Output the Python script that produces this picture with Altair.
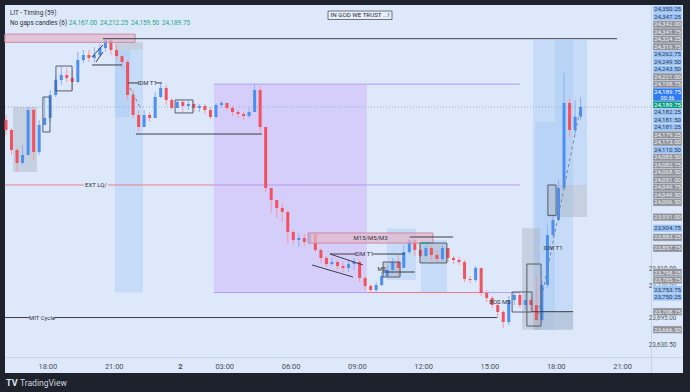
import altair as alt
import pandas as pd

# ---------------- data ----------------
# 15-minute candles, "no gaps": each open equals the previous close
first_open = 24159.25
closes = [24135.75, 24088.75, 24058.25, 24077.0, 24182.75, 24084.0, 24147.5, 24164.0, 24218.0, 24253.25,
          24265.0, 24258.0, 24248.5, 24300.25, 24312.0, 24305.0, 24312.0, 24328.5, 24347.25, 24323.75,
          24309.5, 24295.5, 24218.0, 24171.0, 24142.75, 24171.0, 24164.0, 24213.25, 24234.5, 24206.25,
          24187.5, 24201.5, 24192.0, 24196.75, 24187.5, 24192.0, 24182.75, 24166.25, 24194.5, 24199.25,
          24187.5, 24178.0, 24173.25, 24168.5, 24178.0, 24229.75, 24142.75, 23999.5, 23971.25, 23952.5,
          23943.0, 23896.0, 23877.25, 23882.0, 23872.5, 23891.25, 23853.75, 23835.0, 23820.75, 23825.5,
          23816.0, 23811.5, 23820.75, 23825.5, 23788.0, 23769.0, 23759.75, 23771.5, 23792.5, 23806.75,
          23825.5, 23811.5, 23849.0, 23877.25, 23853.75, 23839.5, 23858.5, 23842.0, 23832.5, 23858.5,
          23835.0, 23830.25, 23825.5, 23785.5, 23783.25, 23811.5, 23752.75, 23741.0, 23724.5, 23708.0,
          23684.5, 23736.25, 23748.0, 23724.5, 23736.25, 23724.5, 23689.25, 23771.5, 23889.0, 23924.25,
          23999.5, 24199.25, 24135.75, 24167.0, 24189.75]
highs = [24171.0, 24140.5, 24093.5, 24100.5, 24189.75, 24187.5, 24159.25, 24213.25, 24229.75, 24260.25,
         24283.75, 24281.5, 24276.75, 24319.0, 24323.75, 24323.75, 24330.75, 24337.75, 24352.0, 24347.25,
         24335.5, 24312.0, 24300.25, 24229.75, 24182.75, 24182.75, 24178.0, 24225.0, 24246.25, 24241.5,
         24211.0, 24206.25, 24206.25, 24203.75, 24201.5, 24196.75, 24196.75, 24189.75, 24199.25, 24203.75,
         24199.25, 24192.0, 24182.75, 24178.0, 24187.5, 24243.75, 24239.0, 24142.75, 23999.5, 23971.25,
         23964.25, 23947.75, 23900.75, 23893.75, 23891.25, 23893.75, 23891.25, 23858.5, 23839.5, 23835.0,
         23830.25, 23825.5, 23830.25, 23835.0, 23830.25, 23792.5, 23773.75, 23778.5, 23802.0, 23818.5,
         23835.0, 23842.0, 23865.5, 23886.5, 23877.25, 23865.5, 23865.5, 23863.0, 23853.75, 23865.5,
         23858.5, 23839.5, 23837.25, 23830.25, 23792.5, 23816.0, 23811.5, 23759.75, 23745.5, 23729.25,
         23712.75, 23745.5, 23755.0, 23752.75, 23750.25, 23741.0, 23790.25, 23783.25, 23912.5, 23936.0,
         24018.25, 24269.75, 24211.0, 24206.25, 24212.25]
lows = [24124.0, 24077.0, 24037.0, 24053.5, 24077.0, 24065.25, 24077.0, 24147.5, 24154.5, 24213.25,
        24241.5, 24248.5, 24229.75, 24246.25, 24293.25, 24295.5, 24295.5, 24307.25, 24319.0, 24312.0,
        24300.25, 24281.5, 24206.25, 24164.0, 24133.25, 24147.5, 24154.5, 24164.0, 24211.0, 24194.5,
        24182.75, 24187.5, 24178.0, 24182.75, 24178.0, 24178.0, 24173.25, 24161.5, 24164.0, 24187.5,
        24180.25, 24168.5, 24164.0, 24159.25, 24164.0, 24178.0, 24128.75, 23990.0, 23940.75, 23929.0,
        23919.5, 23870.25, 23865.5, 23860.75, 23863.0, 23867.75, 23849.0, 23823.25, 23813.75, 23816.0,
        23806.75, 23802.0, 23802.0, 23806.75, 23778.5, 23759.75, 23752.75, 23752.75, 23769.0, 23788.0,
        23797.25, 23792.5, 23811.5, 23844.25, 23839.5, 23835.0, 23837.25, 23830.25, 23825.5, 23827.75,
        23825.5, 23820.75, 23818.5, 23778.5, 23776.25, 23778.5, 23745.5, 23731.5, 23717.5, 23694.0,
        23670.5, 23677.5, 23724.5, 23717.5, 23712.75, 23708.0, 23679.75, 23684.5, 23764.5, 23882.0,
        23919.5, 23994.75, 24119.25, 24124.0, 24159.5]
BAR_HOURS = 0.25

# time axis (trading hours from the start of the window)
tick_hours = [1.875, 4.875, 7.875, 9.875, 12.875, 15.875, 18.875, 21.875, 24.875, 27.875]
tick_labels = ["18:00", "21:00", "2", "03:00", "06:00", "09:00", "12:00", "15:00", "18:00", "21:00"]

# price-scale labels (value, kind)
price_labels = [
    (24350.25, "lb"), (24347.25, "lb"), (24342.00, "gr"), (24341.75, "gr"), (24324.25, "gr"),
    (24319.75, "gr"), (24262.75, "lb"), (24249.50, "lb"), (24243.50, "lb"), (24221.00, "gr"),
    (24198.75, "gr"), (24189.75, "blue"), (24189.75, "green"), (24182.25, "lb"), (24181.50, "lb"),
    (24181.25, "lb"), (24179.25, "gr"), (24173.00, "gr"), (24110.50, "lb"), (24085.50, "gr"),
    (24082.75, "gr"), (24068.50, "gr"), (24051.00, "gr"), (24049.75, "gr"), (24049.50, "gr"),
    (24006.50, "gr"), (23931.00, "gr"), (23904.75, "lb"), (23883.25, "gr"), (23857.75, "gr"),
    (23798.25, "gr"), (23785.75, "gr"), (23753.75, "lb"), (23750.25, "lb"), (23708.75, "gr"),
    (23666.50, "gr")]
plain_labels = [23810.00, 23770.00, 23695.00, 23630.50]
countdown = "00:36"

# drawings: zones (t1, t2, price top, price bottom)
pink_zones = [(-0.05, 5.84, 24361.0, 24341.75), (13.67, 19.32, 23893.75, 23870.0)]
purple_zones = [(9.41, 16.33, 24243.5, 23753.75)]
blue_zones = [(4.93, 6.20, 24324.25, 23753.75), (4.93, 5.61, 24324.25, 24166.25),
              (17.24, 18.55, 23905.0, 23783.0), (18.78, 19.95, 23877.0, 23755.0),
              (23.85, 25.66, 24347.25, 23666.5), (24.84, 26.29, 24347.25, 24006.5),
              (23.94, 24.84, 24154.5, 23666.5)]
gray_zones = [(4.93, 6.20, 24342.0, 24324.25), (0.32, 1.40, 24189.75, 24037.0),
              (23.85, 25.66, 23708.75, 23666.5), (23.35, 24.16, 23904.75, 23666.5),
              (24.52, 26.29, 24006.5, 23931.0), (17.06, 17.83, 23825.5, 23790.25),
              (18.73, 19.95, 23870.0, 23823.25)]
outline_boxes = [(1.67, 1.99, 24213.25, 24131.0), (2.26, 2.99, 24286.0, 24227.5),
                 (7.65, 8.46, 24206.25, 24175.75), (23.57, 24.21, 23820.75, 23675.0),
                 (24.52, 24.89, 24006.5, 23935.0), (17.06, 17.83, 23825.5, 23790.25),
                 (18.73, 19.95, 23870.0, 23823.25), (22.9, 23.8, 23755.0, 23708.0)]
# lines (t1, p1, t2, p2)
black_lines = [(4.39, 24350.25, 27.65, 24350.25), (3.89, 24288.5, 5.25, 24288.5),
               (5.88, 24126.25, 11.58, 24126.25), (-0.05, 23695.0, 1.05, 23695.0),
               (2.2, 23695.0, 22.22, 23695.0), (23.8, 23708.75, 25.66, 23708.75),
               (18.28, 23884.25, 20.23, 23884.25), (17.06, 23802.0, 18.5, 23802.0),
               (5.52, 24246.25, 6.0, 24246.25), (6.78, 24246.25, 7.06, 24246.25),
               (14.66, 23844.25, 15.8, 23844.25), (16.6, 23844.25, 18.05, 23844.25),
               (14.66, 23844.25, 16.15, 23818.5), (13.85, 23818.5, 15.70, 23790.25),
               (3.89, 24307.25, 4.39, 24335.5), (4.07, 24295.5, 4.39, 24319.0)]
red_lines = [(-0.05, 24006.5, 3.52, 24006.5), (4.62, 24006.5, 9.41, 24006.5),
             (16.38, 23753.75, 21.6, 23753.75)]
purple_lines = [(9.41, 24243.5, 23.26, 24243.5), (9.41, 24006.5, 23.26, 24006.5),
                (9.41, 23753.75, 23.26, 23753.75)]
dashed_lines = [(24.03, 23689.25, 25.97, 24182.75), (5.61, 24234.5, 6.06, 24189.75)]
teal_lines = [(18.78, 23870.0, 19.19, 23870.0)]
# text on the chart (t, price, text)
chart_texts = [(6.39, 24246.25, "IDM T1"), (16.2, 23844.25, "IDM T1"), (24.75, 23858.5, "IDM T1"),
               (4.07, 24006.5, "EXT LQ/"), (1.63, 23695.0, "MIT Cycle"), (16.5, 23882.0, "M15/M5/M3"),
               (22.35, 23731.5, "BOS M5"), (17.0, 23809.0, "M5")]
header_values = ["24,167.00", "24,212.25", "24,159.50", "24,189.75"]

# ---------------- layout ----------------
W, H = 646, 352
PMIN, PMAX = 23602.25, 24429.45
TMIN, TMAX = -0.045, 29.186
FONT = "Roboto"
BG_PANEL = "#dde9fa"

xs = alt.Scale(domain=[TMIN, TMAX], nice=False, zero=False, padding=0)
ys = alt.Scale(domain=[PMIN, PMAX], nice=False, zero=False, padding=0)
xaxis = alt.Axis(values=tick_hours, title=None, grid=False, domain=False, ticks=False,
                 labelPadding=5, labelFontSize=7.5, labelColor="#4a4f5a", labelFont=FONT,
                 labelExpr="[" + ",".join("'%s'" % s for s in tick_labels) + "][indexof(["
                           + ",".join(str(v) for v in tick_hours) + "], datum.value)]",
                 labelFontWeight={"condition": {"test": "datum.value == 7.875", "value": "bold"},
                                  "value": "normal"},
                 zindex=1)


def X(f):
    return alt.X(f, type="quantitative", scale=xs, axis=xaxis)


def Y(f):
    return alt.Y(f, type="quantitative", scale=ys, axis=None)


one = pd.DataFrame({"a": [0]})

# candle table
opens = [first_open] + closes[:-1]
cdf = pd.DataFrame({"t": [i * BAR_HOURS for i in range(len(closes))], "open": opens,
                    "close": closes, "high": highs, "low": lows})
cdf["high"] = cdf[["high", "open", "close"]].max(axis=1)
cdf["low"] = cdf[["low", "open", "close"]].min(axis=1)
cdf["dir"] = ["up" if c >= o else "down" for o, c in zip(cdf["open"], cdf["close"])]


def zone_df(z):
    return pd.DataFrame(z, columns=["t1", "t2", "p1", "p2"])


def line_df(z):
    return pd.DataFrame(z, columns=["t1", "p1", "t2", "p2"])


layers = []
# panel background
layers.append(alt.Chart(one).mark_rect(color=BG_PANEL).encode(
    x=alt.value(0), x2=alt.value(678), y=alt.value(0), y2=alt.value(368)))
layers.append(alt.Chart(one).mark_rule(color="#c6d4e8", strokeWidth=1).encode(
    x=alt.value(646.5), y=alt.value(0), y2=alt.value(368)))
layers.append(alt.Chart(one).mark_rule(color="#c6d4e8", strokeWidth=1).encode(
    x=alt.value(0), x2=alt.value(678), y=alt.value(352.5)))


def zones(z, **kw):
    return alt.Chart(zone_df(z)).mark_rect(**kw).encode(x=X("t1"), x2=alt.X2("t2"), y=Y("p1"), y2=alt.Y2("p2"))


def lines(z, **kw):
    return alt.Chart(line_df(z)).mark_rule(**kw).encode(x=X("t1"), x2=alt.X2("t2"), y=Y("p1"), y2=alt.Y2("p2"))


layers.append(zones(purple_zones, color="#d5cdfa", opacity=1))
layers.append(zones(blue_zones, color="#a9c9f4", opacity=0.45))
layers.append(zones(gray_zones, color="#a9b3c2", opacity=0.45))
layers.append(lines(purple_lines, color="#b89cf0", strokeWidth=1))
layers.append(lines(red_lines, color="#ef7b88", strokeWidth=1))

# current price line
layers.append(alt.Chart(pd.DataFrame({"p": [closes[-1]]})).mark_rule(
    color="#8aa0bf", strokeWidth=0.8, strokeDash=[1, 2]).encode(
    y=Y("p"), x=alt.value(0), x2=alt.value(W)))

# candles
ccol = alt.Color("dir:N", scale=alt.Scale(domain=["up", "down"], range=["#4d8ff0", "#f2525f"]), legend=None)
wcol = alt.Color("dir:N", scale=alt.Scale(domain=["up", "down"], range=["#86b2f3", "#f49aa3"]), legend=None)
layers.append(alt.Chart(cdf).mark_rule(strokeWidth=1).encode(x=X("t"), y=Y("low"), y2=alt.Y2("high"), color=wcol))
layers.append(alt.Chart(cdf).mark_bar(size=3).encode(x=X("t"), y=Y("open"), y2=alt.Y2("close"), color=ccol))

layers.append(zones(pink_zones, fill="#e3b8cc", fillOpacity=0.75, stroke="#c98aa3", strokeWidth=1))
layers.append(zones(outline_boxes, fill="transparent", stroke="#4a4f5a", strokeWidth=0.9))
layers.append(lines(black_lines, color="#3b3f48", strokeWidth=1))
layers.append(lines(dashed_lines, color="#7d8591", strokeWidth=1, strokeDash=[3, 3]))
layers.append(lines(teal_lines, color="#26a69a", strokeWidth=1.5))

tdf = pd.DataFrame(chart_texts, columns=["t", "p", "txt"])
layers.append(alt.Chart(tdf).mark_text(font=FONT, fontSize=6, color="#2f333b").encode(
    x=X("t"), y=Y("p"), text="txt"))


# ----- price scale labels, stacked like the platform does -----
def to_px(p):
    return (PMAX - p) / (PMAX - PMIN) * H


def to_price(px):
    return PMAX - px / H * (PMAX - PMIN)


items = [{"v": v, "kind": k, "h": 13.0 if k == "blue" else 7.5, "want": to_px(v)} for v, k in price_labels]
items.sort(key=lambda d: d["want"])
clusters = [[it] for it in items]


def layout(cl):
    offs, acc = [], 0.0
    for it in cl:
        offs.append(acc + it["h"] / 2)
        acc += it["h"]
    top = sum(it["want"] - o for it, o in zip(cl, offs)) / len(cl)
    return top, acc, offs


changed = True
while changed:
    changed = False
    for k in range(len(clusters) - 1):
        t1, h1, _ = layout(clusters[k])
        t2, _, _ = layout(clusters[k + 1])
        if t1 + h1 > t2 + 1e-9:
            clusters[k] = clusters[k] + clusters[k + 1]
            del clusters[k + 1]
            changed = True
            break

rows = []
for cl in clusters:
    top, _, offs = layout(cl)
    for it, o in zip(cl, offs):
        c = top + o
        rows.append({"txt": f"{it['v']:,.2f}", "kind": it["kind"],
                     "ya": to_price(c - it["h"] / 2), "yb": to_price(c + it["h"] / 2),
                     "yt": to_price(c - 3.1 if it["kind"] == "blue" else c),
                     "y2t": to_price(c + 3.3)})
ldf = pd.DataFrame(rows)
kinds = ["lb", "gr", "green", "blue"]
box_scale = alt.Scale(domain=kinds, range=["#9cc3f6", "#8e9199", "#0c9a80", "#2f7bf5"])
txt_scale = alt.Scale(domain=kinds, range=["#2c3e5c", "#f2f2f2", "#ffffff", "#ffffff"])
pdf = pd.DataFrame({"p": plain_labels, "txt": [f"{v:,.2f}" for v in plain_labels]})
layers.append(alt.Chart(pdf).mark_text(font=FONT, fontSize=6.3, color="#50555f").encode(
    y=Y("p"), x=alt.value(657.5), text="txt"))
layers.append(alt.Chart(ldf).mark_rect(stroke=BG_PANEL, strokeWidth=0.4).encode(
    x=alt.value(648), x2=alt.value(677), y=Y("ya"), y2=alt.Y2("yb"),
    color=alt.Color("kind:N", scale=box_scale, legend=None)))
layers.append(alt.Chart(ldf).mark_text(font=FONT, fontSize=6.2).encode(
    x=alt.value(662.5), y=Y("yt"), text="txt",
    color=alt.Color("kind:N", scale=txt_scale, legend=None)))
layers.append(alt.Chart(ldf[ldf["kind"] == "blue"].assign(cd=countdown)).mark_text(
    font=FONT, fontSize=5.6, color="#ffffff").encode(x=alt.value(662.5), y=Y("y2t"), text="cd"))

# ----- header and captions (pixel annotations) -----
layers.append(alt.Chart(one).mark_text(text="LIT - Timing (59)", font=FONT, fontSize=6.4, align="left",
                                       baseline="middle", color="#2a2e39").encode(x=alt.value(5), y=alt.value(8)))
layers.append(alt.Chart(one).mark_text(text="No gaps candles (6)", font=FONT, fontSize=6.4, align="left",
                                       baseline="middle", color="#2a2e39").encode(x=alt.value(5), y=alt.value(18)))
for k, v in enumerate(header_values):
    layers.append(alt.Chart(one).mark_text(text=v, font=FONT, fontSize=6.4, align="left", baseline="middle",
                                           color="#1fa58d").encode(x=alt.value(64 + 31 * k), y=alt.value(18)))
layers.append(alt.Chart(one).mark_rect(fill="#e6effb", stroke="#50555f", strokeWidth=0.8).encode(
    x=alt.value(323), x2=alt.value(387), y=alt.value(6), y2=alt.value(14.5)))
layers.append(alt.Chart(one).mark_text(text="IN GOD WE TRUST ...!", font=FONT, fontSize=6.2,
                                       color="#2a2e39").encode(x=alt.value(355), y=alt.value(10.4)))
layers.append(alt.Chart(one).mark_text(text="TV", font=FONT, fontSize=9, fontWeight="bold", align="left",
                                       baseline="middle", color="#e0e3eb").encode(x=alt.value(1), y=alt.value(378)))
layers.append(alt.Chart(one).mark_text(text="TradingView", font=FONT, fontSize=8.5, align="left",
                                       baseline="middle", color="#d1d4dc").encode(x=alt.value(15), y=alt.value(378)))

chart = alt.layer(*layers).resolve_scale(color="independent").properties(
    width=W, height=H, background="#1e222d",
    padding={"left": 5, "top": 5, "right": 39, "bottom": 35},
    autosize=alt.AutoSizeParams(type="none"),
).configure_view(stroke=None)

chart.save("out.html", embed_options={"renderer": "svg", "actions": False})
